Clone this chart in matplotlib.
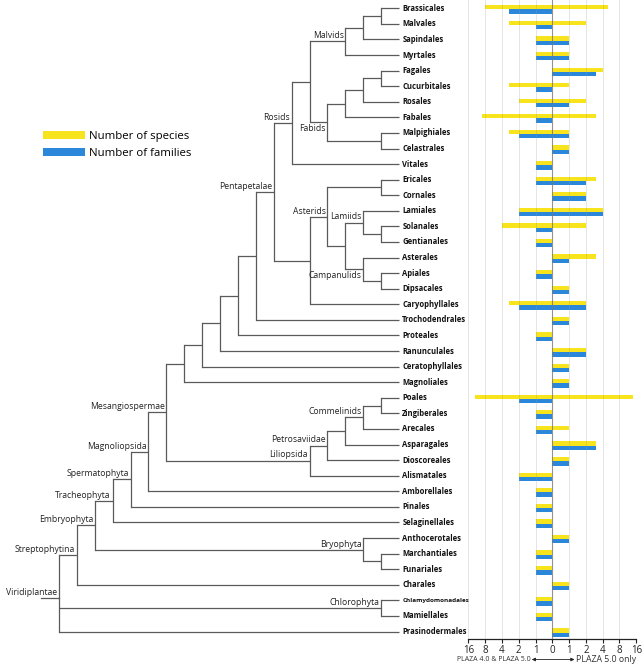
import numpy as np
import matplotlib
matplotlib.use("Agg")
import matplotlib.pyplot as plt
from matplotlib.patches import Patch

# ---------------- data ----------------
orders = ["Brassicales", "Malvales", "Sapindales", "Myrtales", "Fagales", "Cucurbitales",
          "Rosales", "Fabales", "Malpighiales", "Celastrales", "Vitales", "Ericales",
          "Cornales", "Lamiales", "Solanales", "Gentianales", "Asterales", "Apiales",
          "Dipsacales", "Caryophyllales", "Trochodendrales", "Proteales", "Ranunculales",
          "Ceratophyllales", "Magnoliales", "Poales", "Zingiberales", "Arecales",
          "Asparagales", "Dioscoreales", "Alismatales", "Amborellales", "Pinales",
          "Selaginellales", "Anthocerotales", "Marchantiales", "Funariales", "Charales",
          "Chlamydomonadales", "Mamiellales", "Prasinodermales"]

# left side: PLAZA 4.0 & PLAZA 5.0 ; right side: PLAZA 5.0 only
species_shared = [8, 3, 1, 1, 0, 3, 2, 9, 3, 0, 1, 1, 0, 2, 4, 1, 0, 1, 0, 3, 0, 1, 0, 0, 0,
                  12, 1, 1, 0, 0, 2, 1, 1, 1, 0, 1, 1, 0, 1, 1, 0]
species_new = [5, 2, 1, 1, 4, 1, 2, 3, 1, 1, 0, 3, 2, 4, 2, 0, 3, 0, 1, 2, 1, 0, 2, 1, 1,
               14, 0, 1, 3, 1, 0, 0, 0, 0, 1, 0, 0, 1, 0, 0, 1]
families_shared = [3, 1, 1, 1, 0, 1, 1, 1, 2, 0, 1, 1, 0, 2, 1, 1, 0, 1, 0, 2, 0, 1, 0, 0, 0,
                   2, 1, 1, 0, 0, 2, 1, 1, 1, 0, 1, 1, 0, 1, 1, 0]
families_new = [0, 0, 1, 1, 3, 0, 1, 0, 1, 1, 0, 2, 2, 4, 0, 0, 1, 0, 1, 2, 1, 0, 2, 1, 1,
                0, 0, 0, 3, 1, 0, 0, 0, 0, 1, 0, 0, 1, 0, 0, 1]

xtick_values = [-16, -8, -4, -2, -1, 0, 1, 2, 4, 8, 16]
xtick_labels = ["16", "8", "4", "2", "1", "0", "1", "2", "4", "8", "16"]

legend_labels = ["Number of species", "Number of families"]
left_caption = "PLAZA 4.0 & PLAZA 5.0"
right_caption = "PLAZA 5.0 only"

# tree topology: (clade label, [children]); leaves are order names
tree = ("Viridiplantae", [
    ("Streptophytina", [
        ("Embryophyta", [
            ("Tracheophyta", [
                ("Spermatophyta", [
                    ("Magnoliopsida", [
                        ("Mesangiospermae", [
                            ("", [("", [("", [("", [("", [
                                ("Pentapetalae", [
                                    ("Rosids", [
                                        ("", [
                                            ("Malvids", [("", [("", ["Brassicales", "Malvales"]), "Sapindales"]), "Myrtales"]),
                                            ("Fabids", [("", [("", [("", ["Fagales", "Cucurbitales"]), "Rosales"]), "Fabales"]),
                                                        ("", ["Malpighiales", "Celastrales"])]),
                                        ]),
                                        "Vitales"]),
                                    ("", [
                                        ("Asterids", [("", ["Ericales", "Cornales"]),
                                                      ("", [("Lamiids", ["Lamiales", ("", ["Solanales", "Gentianales"])]),
                                                            ("Campanulids", ["Asterales", ("", ["Apiales", "Dipsacales"])])])]),
                                        "Caryophyllales"]),
                                ]),
                                "Trochodendrales"]), "Proteales"]), "Ranunculales"]), "Ceratophyllales"]),
                                "Magnoliales"]),
                            ("Liliopsida", [("Petrosaviidae", [("", [("Commelinids", [("", ["Poales", "Zingiberales"]), "Arecales"]),
                                                                     "Asparagales"]), "Dioscoreales"]),
                                            "Alismatales"]),
                        ]),
                        "Amborellales"]),
                    "Pinales"]),
                "Selaginellales"]),
            ("Bryophyta", ["Anthocerotales", ("", ["Marchantiales", "Funariales"])]),
        ]),
        "Charales"]),
    ("Chlorophyta", ["Chlamydomonadales", "Mamiellales"]),
    "Prasinodermales"])
labels_below = ["Fabids", "Campanulids"]

# ---------------- style ----------------
YELLOW = "#f7e41c"
BLUE = "#2b87da"
LINE = "#5a5a5a"
FONT = "Open Sans"
plt.rcParams["font.family"] = [FONT, "DejaVu Sans"]

W, H, DPI = 642, 666, 100
fig = plt.figure(figsize=(W / DPI, H / DPI), dpi=DPI)

# geometry (pixels)
LEAF_X, STEP_X = 399.0, 17.9      # x of leaves, px per tree level
Y0, STEP_Y = 8.3, 15.58           # y of first leaf, px per leaf
AX_L, AX_R, AX_B = 468.3, 636.3, 639.0

ax_t = fig.add_axes([0, 0, 1, 1])
ax_t.set_xlim(LEAF_X / STEP_X, (LEAF_X - W) / STEP_X)
ax_t.set_ylim((H - Y0) / STEP_Y, -Y0 / STEP_Y)
ax_t.axis("off")

nodes = []


def layout(node):
    if isinstance(node, str):
        return 0, orders.index(node)
    name, kids = node
    res = [layout(k) for k in kids]
    h = max(r[0] for r in res) + 1
    y = float(np.mean([r[1] for r in res]))
    nodes.append((name, h, y, res))
    return h, y


root_h, root_y = layout(tree)
lw = 0.9
for name, h, y, res in nodes:
    ys = [r[1] for r in res]
    ax_t.plot([h, h], [min(ys), max(ys)], color=LINE, lw=lw, solid_capstyle="projecting")
    for ch, cy in res:
        ax_t.plot([h, ch], [cy, cy], color=LINE, lw=lw, solid_capstyle="butt")
    if name:
        below = name in labels_below
        ax_t.annotate(name, (h, y), xytext=(-1.2, -1.0 if below else 0.8), textcoords="offset points",
                      ha="right", va="top" if below else "bottom", fontsize=6.2, color="#222222")
ax_t.plot([root_h, root_h + 1], [root_y, root_y], color=LINE, lw=lw)

for i, name in enumerate(orders):
    ax_t.annotate(name, (0, i), xytext=(2.4, 0), textcoords="offset points", ha="left", va="center",
                  fontsize=4.6 if len(name) > 15 else 5.5, fontweight="bold", color="#111111")

# legend
handles = [Patch(facecolor=YELLOW, edgecolor="none"), Patch(facecolor=BLUE, edgecolor="none")]
fig.legend(handles, legend_labels, loc="upper left", bbox_to_anchor=(43.3 / W, 1 - 131.0 / H),
           frameon=False, fontsize=8.2, handlelength=3.7, handleheight=0.7, handletextpad=0.35,
           borderaxespad=0, borderpad=0, labelspacing=0.52)

# ---------------- bar panel ----------------
ax_b = fig.add_axes([AX_L / W, (H - AX_B) / H, (AX_R - AX_L) / W, AX_B / H])
ax_b.patch.set_alpha(0)


def fwd(x):
    x = np.asarray(x, float)
    a = np.abs(x)
    return np.where(a >= 1, np.sign(x) * (np.log2(np.maximum(a, 1)) + 1), x)


def inv(v):
    v = np.asarray(v, float)
    a = np.abs(v)
    return np.where(a >= 1, np.sign(v) * 2 ** (np.maximum(a, 1) - 1), v)


ax_b.set_xscale("function", functions=(fwd, inv))
ax_b.set_xlim(-16, 16)
ax_b.set_ylim((AX_B - Y0) / STEP_Y, -Y0 / STEP_Y)

idx = np.arange(len(orders))
ax_b.barh(idx - 0.065, -np.array(species_shared), height=0.27, left=0, color=YELLOW, zorder=2)
ax_b.barh(idx - 0.065, np.array(species_new), height=0.27, left=0, color=YELLOW, zorder=2)
ax_b.barh(idx + 0.21, -np.array(families_shared), height=0.28, left=0, color=BLUE, zorder=2)
ax_b.barh(idx + 0.21, np.array(families_new), height=0.28, left=0, color=BLUE, zorder=2)

for v in xtick_values:
    if v == 0:
        ax_b.axvline(v, color="#777777", lw=0.8, alpha=0.8, zorder=3)
    else:
        ax_b.axvline(v, color="#999999", lw=0.6, alpha=0.3, zorder=3)

ax_b.set_xticks(xtick_values)
ax_b.set_xticklabels(xtick_labels)
ax_b.minorticks_off()
ax_b.set_yticks([])
for s in ["top", "left", "right"]:
    ax_b.spines[s].set_visible(False)
ax_b.spines["bottom"].set_color("#222222")
ax_b.spines["bottom"].set_linewidth(0.9)
ax_b.tick_params(axis="x", direction="out", length=3, width=0.8, pad=1.0, labelsize=7.0, colors="#222222")

yc = (H - 659.5) / H
ax_b.annotate(left_caption, (0.372, yc), xycoords=("axes fraction", "figure fraction"),
              ha="right", va="center", fontsize=5.0, color="#333333", annotation_clip=False)
ax_b.annotate(right_caption, (0.64, yc), xycoords=("axes fraction", "figure fraction"),
              ha="left", va="center", fontsize=6.3, color="#333333", annotation_clip=False)
ax_b.annotate("", xy=(0.632, yc), xytext=(0.378, yc),
              xycoords=("axes fraction", "figure fraction"), textcoords=("axes fraction", "figure fraction"),
              arrowprops=dict(arrowstyle="<|-|>", color="#222222", lw=0.6, mutation_scale=5,
                              shrinkA=0, shrinkB=0), annotation_clip=False)

fig.savefig("out.png", dpi=DPI)
